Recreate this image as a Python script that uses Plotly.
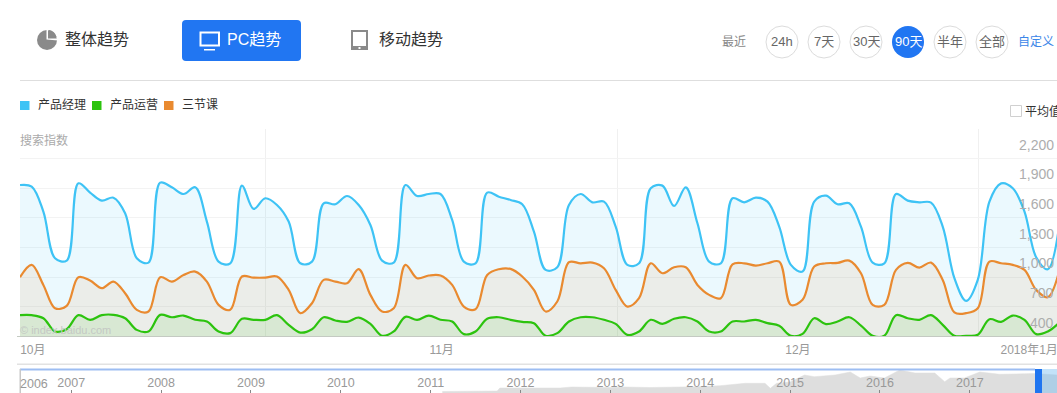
import plotly.graph_objects as go

W, H = 1057, 393

# ---- data ----
days = list(range(90))
pm = [1933,1917,1664,1192,1168,1950,1856,1775,1805,1647,1192,1148,1957,1910,1842,1910,1563,1158,1141,1927,
      1691,1799,1731,1563,1141,1158,1748,1738,1822,1731,1529,1168,1148,1933,1822,1842,1842,1580,1158,1141,
      1856,1815,1782,1738,1462,1074,1101,1731,1842,1758,1765,1512,1125,1141,1900,1927,1721,1910,1546,1158,
      1141,1799,1758,1805,1765,1512,1125,1057,1765,1825,1738,1748,1512,1148,1141,1842,1775,1758,1755,1512,
      990,760,973,1765,1950,1900,1664,1202,1081,1546]
ops = [616,616,585,451,474,616,569,616,619,585,467,451,619,595,612,569,552,451,434,579,
       569,569,616,518,440,474,595,562,548,592,528,407,451,599,569,612,569,552,424,451,
       579,595,569,548,535,407,434,552,595,595,569,528,417,451,569,528,579,595,552,451,
       451,552,552,569,535,508,407,427,585,525,552,595,511,407,407,616,585,569,616,518,
       407,407,417,575,548,612,569,424,451,542]
sjk = [1000,1125,922,686,710,1000,966,889,956,838,670,653,1000,956,1023,1057,956,720,670,1007,
       996,996,1007,872,636,737,973,956,939,1081,821,653,686,1125,990,1017,1017,922,703,676,
       1023,1081,1084,1007,872,653,754,1152,1141,1148,1091,872,703,788,1141,1040,1101,1101,922,821,
       788,1131,1141,1118,1141,1158,720,771,1108,1141,1145,1168,1040,720,720,1074,1145,1098,1148,973,
       643,636,686,1158,1141,1125,1074,872,798,1074]
series_names = ["产品经理", "产品运营", "三节课"]
y_ticks = [400, 700, 1000, 1300, 1600, 1900, 2200]
y_labels = ["400", "700", "1,000", "1,300", "1,600", "1,900", "2,200"]
month_pos = [1.1, 36.1, 66.6, 86.4]
month_labels = ["10月", "11月", "12月", "2018年1月"]
week_grid = [21, 51.15, 82.1]
years = [2007, 2008, 2009, 2010, 2011, 2012, 2013, 2014, 2015, 2016, 2017]
ov_x = [2011.13,2011.55,2011.74,2011.77,2011.99,2012.08,2012.44,2012.57,2012.77,2012.99,2013.16,2013.44,
        2013.96,2014.22,2014.50,2014.72,2014.78,2014.85,2015.0,2015.16,2015.27,2015.5,2015.67,2015.78,
        2015.89,2016.05,2016.22,2016.39,2016.61,2016.72,2016.78,2016.94,2017.11,2017.33,2017.72,2017.97]
ov_y = [1.5,2,2,5,5,4.5,5,6,5.5,5.5,6,5.5,6.3,7.3,9.7,9.7,4.7,9.7,11,18,16.3,18,21,15,17,15,23,20,20,11.3,
        15,15,21,18.7,19.5,18]

BLUE, GREEN, ORANGE = "#3ec3f5", "#2cc30e", "#e98a30"
FONT = "Liberation Sans, Noto Sans CJK SC, sans-serif"

fx = lambda p: p / W
fy = lambda p: 1 - p / H

fig = go.Figure()
fig.add_trace(go.Scatter(x=days, y=pm, name=series_names[0], mode="lines", fill="tozeroy",
                         line=dict(color=BLUE, width=2.2, shape="spline", smoothing=1),
                         fillcolor="rgba(60,195,250,0.1)"))
fig.add_trace(go.Scatter(x=days, y=sjk, name=series_names[2], mode="lines", fill="tozeroy",
                         line=dict(color=ORANGE, width=2.2, shape="spline", smoothing=1),
                         fillcolor="rgba(235,135,45,0.1)"))
fig.add_trace(go.Scatter(x=days, y=ops, name=series_names[1], mode="lines", fill="tozeroy",
                         line=dict(color=GREEN, width=2.2, shape="spline", smoothing=1),
                         fillcolor="rgba(45,195,20,0.1)"))
fig.add_trace(go.Scatter(x=ov_x, y=ov_y, mode="lines", fill="tozeroy", xaxis="x2", yaxis="y2",
                         line=dict(color="#dedede", width=0.5), fillcolor="#dedede"))

shapes, ann = [], []


def rect(x0, y0, x1, y1, fill=None, line=None, lw=1, kind="rect", layer="above"):
    shapes.append(dict(type=kind, xref="paper", yref="paper", x0=fx(x0), x1=fx(x1), y0=fy(y1), y1=fy(y0),
                       fillcolor=fill, line=dict(color=line or "rgba(0,0,0,0)", width=lw if line else 0),
                       layer=layer))


def text(x, y, s, size=12, color="#333", anchor="left"):
    ann.append(dict(xref="paper", yref="paper", x=fx(x), y=fy(y), text=s, showarrow=False, xanchor=anchor,
                    yanchor="middle", align=anchor, borderpad=0, borderwidth=0,
                    font=dict(family=FONT, size=size, color=color)))


# tabs
GR = "#8a8a8a"
rect(37, 30, 57, 50, fill=GR, kind="circle")
shapes.append(dict(type="path", xref="paper", yref="paper", layer="above", fillcolor="white", line=dict(width=0),
                   path=f"M {fx(46.5)},{fy(39.5)} L {fx(46.5)},{fy(29)} L {fx(48)},{fy(29)} L {fx(48)},{fy(38.5)} "
                        f"L {fx(58)},{fy(38.5)} L {fx(58)},{fy(40.5)} Z"))
shapes.append(dict(type="path", xref="paper", yref="paper", layer="above", fillcolor=GR, line=dict(width=0),
                   path=f"M {fx(49)},{fy(30)} Q {fx(55)},{fy(31)} {fx(56.5)},{fy(37)} L {fx(49)},{fy(37)} Z"))
text(65, 39, "整体趋势", 16)
shapes.append(dict(type="path", xref="paper", yref="paper", layer="above",
                   path=f"M {fx(186)},{fy(20)} L {fx(297)},{fy(20)} Q {fx(301)},{fy(20)} {fx(301)},{fy(24)} "
                        f"L {fx(301)},{fy(57)} Q {fx(301)},{fy(61)} {fx(297)},{fy(61)} L {fx(186)},{fy(61)} "
                        f"Q {fx(182)},{fy(61)} {fx(182)},{fy(57)} L {fx(182)},{fy(24)} Q {fx(182)},{fy(20)} {fx(186)},{fy(20)} Z",
                   fillcolor="#2176f2", line=dict(width=0)))
rect(200.5, 32.5, 219, 45.5, line="white", lw=2)
rect(204, 49, 215, 50.5, fill="white")
text(227, 39, "PC趋势", 16, "white")
rect(351, 30, 368, 50, fill=GR)
rect(353, 32, 366, 46, fill="white")
rect(358.5, 47, 360.5, 49, fill="white")
text(379, 39, "移动趋势", 16)

# range buttons
text(722, 42, "最近", 12, "#888")
btn_x = [782, 824, 866, 908, 950, 992]
btn_t = ["24h", "7天", "30天", "90天", "半年", "全部"]
for cx, t in zip(btn_x, btn_t):
    on = t == "90天"
    rect(cx - 16, 26, cx + 16, 58, fill="#2176f2" if on else "white", line=None if on else "#dcdcdc", kind="circle")
    text(cx, 42, t, 13, "white" if on else "#666", "center")
text(1018, 42, "自定义", 12, "#3b86e8")
rect(20, 80, W, 81, fill="#dedede")

# legend
for x0, col, tx, name in [(20, BLUE, 38, series_names[0]), (92, GREEN, 110, series_names[1]),
                          (164, ORANGE, 182, series_names[2])]:
    rect(x0, 101, x0 + 9.5, 110, fill=col)
    text(tx, 105, name, 12, "#333")
rect(1010.5, 105.5, 1021.5, 116.5, fill="white", line="#d0d0d0")
text(1025, 111, "平均值", 12, "#333")
text(20, 140, "搜索指数", 12, "#aaa")
text(20, 330, "© index.baidu.com", 11, "#c4c8c4")

# y labels sit above their gridlines, inside the plot at the right edge
for v, lab in zip(y_ticks, y_labels):
    ann.append(dict(xref="paper", yref="y", x=fx(1056), y=v, yshift=14, text=lab, showarrow=False,
                    xanchor="right", yanchor="middle", font=dict(family=FONT, size=14, color="#adadad")))

# rules and overview frame
rect(17, 336, W, 337, fill="#c4cac2")
rect(17, 363.5, W, 365, fill="#e2e2e2")
rect(20, 368.5, 1035, 370.5, fill="#9dbdf2")
rect(19.5, 369, 21, H, fill="#c8c8c8")
rect(1042, 369, W, H, fill="rgba(110,185,240,0.42)")
rect(1035, 369, 1042, H, fill="#1f75f0")
text(34, 384, "2006", 12.5, "#999", "center")

fig.update_layout(
    width=W, height=H, margin=dict(l=0, r=0, t=0, b=0), paper_bgcolor="white", plot_bgcolor="white",
    showlegend=False, shapes=shapes, annotations=ann, font=dict(family=FONT),
    xaxis=dict(domain=[fx(20), 1], range=[0, (W - 20) / 11.68], showgrid=False, zeroline=False,
               tickmode="array", tickvals=month_pos, ticktext=month_labels, ticks="",
               tickfont=dict(size=12, color="#999"), ticklabelstandoff=4, ticklabeloverflow="allow",
               minor=dict(tickmode="array", tickvals=week_grid, showgrid=True, gridcolor="#f0f0f0", ticks="")),
    yaxis=dict(domain=[fy(336.5), fy(129)], range=[400, 2500], tickmode="array", tickvals=y_ticks + [2500],
               showticklabels=False, showgrid=True, gridcolor="#f3f3f3", zeroline=False),
    xaxis2=dict(domain=[fx(20), 1], anchor="y2", range=[2006.43, 2017.97], tickmode="array", tickvals=years,
                ticktext=[str(y) for y in years], ticks="inside", ticklen=3, tickcolor="#888",
                ticklabelposition="inside", showgrid=False, zeroline=False,
                tickfont=dict(size=12.5, color="#999")),
    yaxis2=dict(domain=[0, fy(369)], anchor="x2", range=[0, 24], showticklabels=False, showgrid=False,
                zeroline=False),
)

fig.write_html("out.html", config=dict(displayModeBar=False, responsive=False),
               post_script="document.body.style.margin='0';document.documentElement.style.overflow='hidden';")
